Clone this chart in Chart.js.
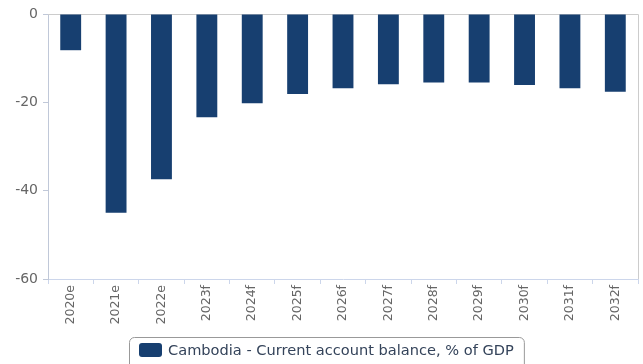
<!DOCTYPE html>
<html>
<head>
<meta charset="utf-8">
<script src="https://cdn.jsdelivr.net/npm/chart.js@4"></script>
<style>
  html, body { margin: 0; padding: 0; background: #fff; }
  #wrap { width: 643px; height: 364px; }
</style>
</head>
<body>
<div id="wrap"><canvas id="myChart" width="643" height="364"></canvas></div>
<script>
var ctx = document.getElementById('myChart');

var years = ["2020e", "2021e", "2022e", "2023f", "2024f", "2025f", "2026f",
             "2027f", "2028f", "2029f", "2030f", "2031f", "2032f"];
var balance = [-8.2, -45.0, -37.4, -23.4, -20.2, -18.1, -16.8, -15.9, -15.5, -15.5, -16.1, -16.8, -17.6];
var seriesName = "Cambodia - Current account balance, % of GDP";
var yTicks = [0, -20, -40, -60];

var barColor = "#173f70";

// top and right edges of the plot frame
var plotFrame = {
  id: 'plotFrame',
  beforeDatasetsDraw: function(chart) {
    var a = chart.chartArea, c = chart.ctx;
    c.save();
    c.strokeStyle = "#cccccc";
    c.lineWidth = 1;
    c.beginPath();
    c.moveTo(a.left, a.top + 0.5);
    c.lineTo(a.right + 0.5, a.top + 0.5);
    c.lineTo(a.right + 0.5, a.bottom);
    c.stroke();
    c.restore();
  }
};

// boxed legend under the axis labels
var boxLegend = {
  id: 'boxLegend',
  afterDraw: function(chart) {
    var c = chart.ctx;
    var ds = chart.data.datasets[0];
    c.save();
    c.font = "14.6px 'DejaVu Sans'";
    var tw = c.measureText(ds.label).width;
    var w = tw + 49, h = 34;
    var x = Math.round((chart.width - w) / 2) + 5, y = 337;
    c.strokeStyle = "#999999";
    c.lineWidth = 1;
    c.beginPath();
    c.roundRect(x + 0.5, y + 0.5, w, h, 5);
    c.stroke();
    c.fillStyle = ds.backgroundColor;
    c.beginPath();
    c.roundRect(x + 10, y + 6, 23, 14, 3);
    c.fill();
    c.fillStyle = "#34435a";
    c.textBaseline = "middle";
    c.fillText(ds.label, x + 39, y + 14);
    c.restore();
  }
};

var chartData = {
  labels: years,
  datasets: [{
    label: seriesName,
    backgroundColor: barColor,
    borderWidth: 0,
    data: balance,
    barPercentage: 0.92,
    categoryPercentage: 0.5
  }]
};

var chartOptions = {
  responsive: false,
  animation: false,
  layout: { padding: { top: 14, right: 5, bottom: 35, left: 0 } },
  plugins: {
    legend: { display: false },
    tooltip: { enabled: false }
  },
  scales: {
    x: {
      grid: { display: true, drawOnChartArea: false, offset: true, color: "#ccd6eb", tickLength: 5 },
      border: { color: "#ccd6eb" },
      ticks: {
        minRotation: 90, maxRotation: 90, autoSkip: false,
        color: "#666666", font: { family: "DejaVu Sans", size: 12.5 }, padding: 1
      },
      afterFit: function(s) { s.height = 50; }
    },
    y: {
      min: -60, max: 0,
      afterBuildTicks: function(s) { s.ticks = yTicks.map(function(v) { return { value: v }; }); },
      grid: { display: true, drawOnChartArea: false, color: "#c0c8d8", tickLength: 5 },
      border: { color: "#c0c8d8" },
      ticks: { color: "#666666", font: { family: "DejaVu Sans", size: 14 }, padding: 5 },
      afterFit: function(s) { s.width = 48; }
    }
  }
};

var barChart = new Chart(ctx, {
  type: 'bar',
  data: chartData,
  options: chartOptions,
  plugins: [plotFrame, boxLegend]
});
</script>
</body>
</html>
